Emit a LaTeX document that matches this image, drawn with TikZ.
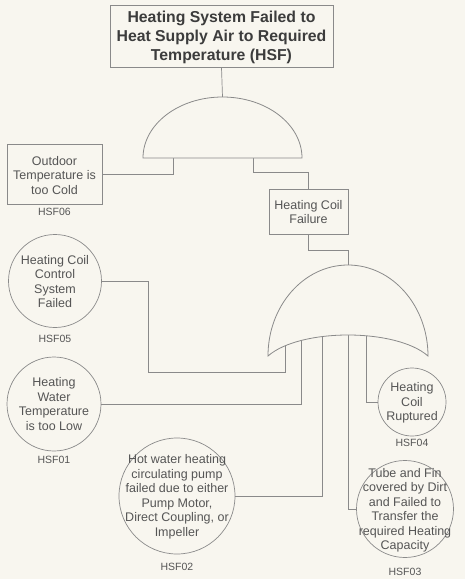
\documentclass[tikz,border=0pt]{standalone}
\usepackage{fontspec}
\setmainfont{Liberation Sans}
\definecolor{paper}{HTML}{F8F6EF}
\definecolor{linegray}{HTML}{8A8A8A}
\definecolor{txtgray}{HTML}{555555}
\definecolor{titlegray}{HTML}{3C3C3C}
\begin{document}
\begin{tikzpicture}[x=1pt,y=-1pt,
  wire/.style={draw=linegray, line width=0.7pt},
  gate/.style={draw=linegray, fill=paper, line width=0.8pt},
  evbox/.style={draw=linegray, line width=0.7pt, fill=paper, inner sep=0pt},
  evcirc/.style={circle, draw=linegray, line width=0.7pt, fill=paper, inner sep=0pt},
  body/.style={text=txtgray, align=center, inner sep=0pt, font=\fontsize{12.5}{14.5}\selectfont},
  tag/.style={text=txtgray, inner sep=0pt, font=\fontsize{10.5}{12}\selectfont},
  headline/.style={text=titlegray, align=center, inner sep=0pt, font=\bfseries\fontsize{15.8}{19}\selectfont}
]
% page
\fill[paper] (0,0) rectangle (465,579);
\useasboundingbox (0,0) rectangle (465,579);

% top event
\node[evbox, minimum width=223pt, minimum height=62pt] (top) at (221.5,36) {};
\node[headline] (topText) at (221.5,37) {Heating System Failed to\\Heat Supply Air to Required\\Temperature (HSF)};

% intermediate and basic events (shapes)
\node[evbox, minimum width=95pt, minimum height=60pt] (b06) at (54.5,174) {};
\node[evbox, minimum width=79pt, minimum height=45pt] (hcf) at (308.5,211.5) {};
\node[evcirc, minimum size=93pt] (c05) at (55,281) {};
\node[evcirc, minimum size=94pt] (c01) at (54,404) {};
\node[evcirc, minimum size=116pt] (c02) at (177,496) {};
\node[evcirc, minimum size=68pt] (c04) at (412,402) {};
\node[evcirc, minimum size=97pt] (c03) at (405,509) {};

% gate attachment points
\coordinate (andTop) at (222.5,97);
\coordinate (andL) at (173,158);
\coordinate (andR) at (253,158);
\coordinate (hcfBend) at (308.5,250);
\coordinate (orTop) at (348,265);
\coordinate (or1) at (285,330);
\coordinate (or2) at (301,330);
\coordinate (or3) at (322,330);
\coordinate (or4) at (348,330);
\coordinate (or5) at (366,330);
\coordinate (k05) at (148,372);
\coordinate (kR) at (253,172);

% connectors
\draw[wire] (top.south) -- (andTop);
\draw[wire] (andL) |- (b06.east);
\draw[wire] (andR) -- (kR) -| (hcf.north);
\draw[wire] (hcf.south) -- (hcfBend) -| (orTop);
\draw[wire] (c05.east) -| (k05) -| (or1);
\draw[wire] (c01.east) -| (or2);
\draw[wire] (c02.east) -| (or3);
\draw[wire] (c03.west) -| (or4);
\draw[wire] (c04.west) -| (or5);

% AND gate
\filldraw[gate] (143,158) arc[start angle=180, end angle=0, x radius=79.5pt, y radius=61pt] -- cycle;

% OR gate (covers the input wires above its concave base)
\filldraw[gate] (268,356) arc[start angle=180, end angle=0, x radius=80pt, y radius=91pt]
  .. controls (396,328) and (300,328) .. (268,356) -- cycle;

% event texts
\node[body] (t06) at (54.5,175.5) {Outdoor\\Temperature is\\too Cold};
\node[body] (thcf) at (308.5,212) {Heating Coil\\Failure};
\node[body] (t05) at (55,281.5) {Heating Coil\\Control\\System\\Failed};
\node[body] (t01) at (54,404) {Heating\\Water\\Temperature\\is too Low};
\node[body] (t02) at (177,497) {Hot water heating\\circulating pump\\failed due to either\\Pump Motor,\\Direct Coupling, or\\Impeller};
\node[body] (t04) at (412,403) {Heating\\Coil\\Ruptured};
\node[body] (t03) at (405,510.5) {Tube and Fin\\covered by Dirt\\and Failed to\\Transfer the\\required Heating\\Capacity};

% event codes
\node[tag] (l06) at (54.5,212) {HSF06};
\node[tag] (l05) at (55,339) {HSF05};
\node[tag] (l01) at (54,460) {HSF01};
\node[tag] (l02) at (177,567) {HSF02};
\node[tag] (l04) at (412,443) {HSF04};
\node[tag] (l03) at (405,572) {HSF03};
\end{tikzpicture}
\end{document}
